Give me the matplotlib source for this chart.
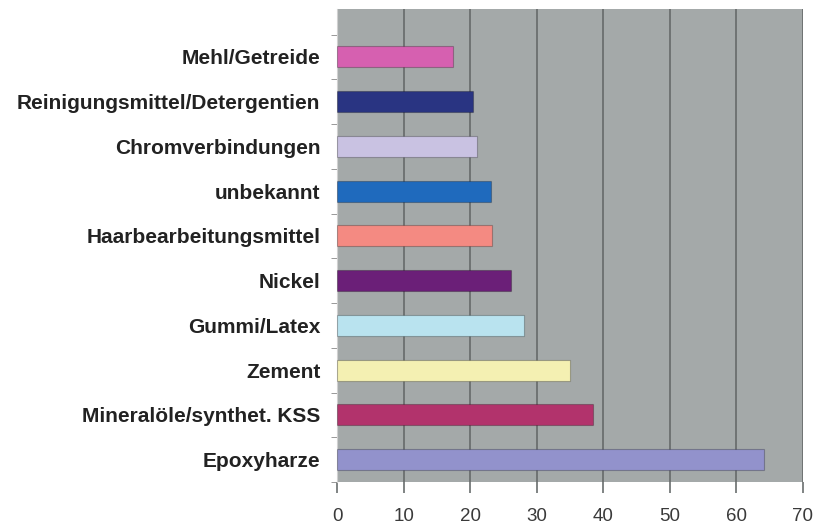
import numpy as np
import matplotlib.pyplot as plt

# categories from bottom to top
labels = ["Epoxyharze", "Mineralöle/synthet. KSS", "Zement", "Gummi/Latex", "Nickel",
          "Haarbearbeitungsmittel", "unbekannt", "Chromverbindungen",
          "Reinigungsmittel/Detergentien", "Mehl/Getreide"]
values = [64.2, 38.4, 35.0, 28.1, 26.2, 23.3, 23.2, 21.0, 20.4, 17.4]
colors = ["#9292cc", "#b2336c", "#f4f0b2", "#b9e3ef", "#6b1f78",
          "#f48a82", "#1f6abd", "#c9c2e2", "#293482", "#d660b0"]
xticks = [0, 10, 20, 30, 40, 50, 60, 70]

plt.rcParams['font.family'] = ['Liberation Sans', 'DejaVu Sans']
fig = plt.figure(figsize=(8.16, 5.32), dpi=100)
ax = fig.add_axes([0.413, 0.094, 0.571, 0.889])
ax.set_facecolor("#a4a9a9")

y = np.arange(len(labels))
ax.barh(y, values, height=0.47, color=colors, edgecolor=(0, 0, 0, 0.25), linewidth=0.8, zorder=3)

ax.set_xlim(0, 70)
ax.set_ylim(-0.5, 10.07)
ax.set_xticks(xticks)
ax.set_xticklabels([str(t) for t in xticks], fontsize=13.5, color="#3a3a3a")
ax.tick_params(axis='x', length=8, width=1.2, color="#6a6e6e", pad=11)
ax.xaxis.grid(True, color="#6f7373", linewidth=1.4, zorder=1)

ax.set_yticks(y)
ax.set_yticklabels(labels, fontsize=15, fontweight='bold', color="#222222")
ax.tick_params(axis='y', length=0, pad=12)
ax.set_yticks(np.arange(-0.5, 10.0, 1.0), minor=True)
ax.tick_params(axis='y', which='minor', length=4, color="#888888")

for s in ["top", "right", "bottom"]:
    ax.spines[s].set_visible(False)
ax.spines["left"].set_color("#d0d0d0")

plt.savefig("out.png", dpi=100)
